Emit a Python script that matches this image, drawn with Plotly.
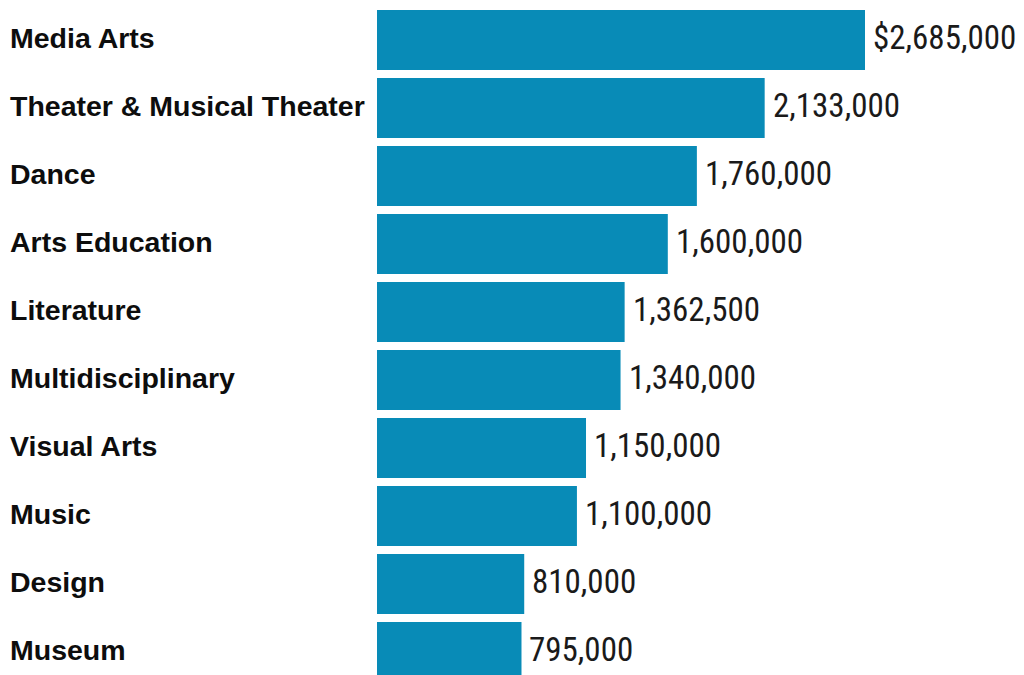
import plotly.graph_objects as go

categories = ["Media Arts", "Theater & Musical Theater", "Dance", "Arts Education",
              "Literature", "Multidisciplinary", "Visual Arts", "Music", "Design", "Museum"]
values = [2685000, 2133000, 1760000, 1600000, 1362500, 1340000, 1150000, 1100000, 810000, 795000]
value_labels = ["$2,685,000", "2,133,000", "1,760,000", "1,600,000", "1,362,500",
                "1,340,000", "1,150,000", "1,100,000", "810,000", "795,000"]

BAR_COLOR = "#088bb7"
VALUE_FONT = "Liberation Sans Narrow, Arial Narrow, Roboto Condensed, sans-serif"
LABEL_FONT = "Liberation Sans, Arial, sans-serif"

fig = go.Figure(go.Bar(
    x=values, y=categories, orientation="h",
    marker=dict(color=BAR_COLOR, line=dict(width=0)),
    hoverinfo="skip",
))

annotations = []
for cat, val, lab in zip(categories, values, value_labels):
    annotations.append(dict(
        x=val, y=cat, xref="x", yref="y", text=lab, showarrow=False,
        xanchor="left", yanchor="middle", xshift=6, yshift=3,
        font=dict(family=VALUE_FONT, size=33, color="#1a1a1a"),
    ))
    annotations.append(dict(
        x=0, y=cat, xref="paper", yref="y", text="<b>" + cat + "</b>", showarrow=False,
        xanchor="left", yanchor="middle", xshift=-369, yshift=2,
        font=dict(family=LABEL_FONT, size=28.5, color="#0d0d0d"),
    ))

fig.update_layout(
    width=1024, height=675,
    margin=dict(l=377, r=0, t=6, b=0),
    paper_bgcolor="white", plot_bgcolor="white",
    bargap=8 / 68,
    showlegend=False,
    xaxis=dict(range=[0, 647 * 2685000 / 488], visible=False, fixedrange=True),
    yaxis=dict(range=[-0.5 + 669 / 68, -0.5], showticklabels=False, showgrid=False,
               zeroline=False, showline=False, ticks="", fixedrange=True),
    annotations=annotations,
)

fig.write_html("out.html", config={"displayModeBar": False})
